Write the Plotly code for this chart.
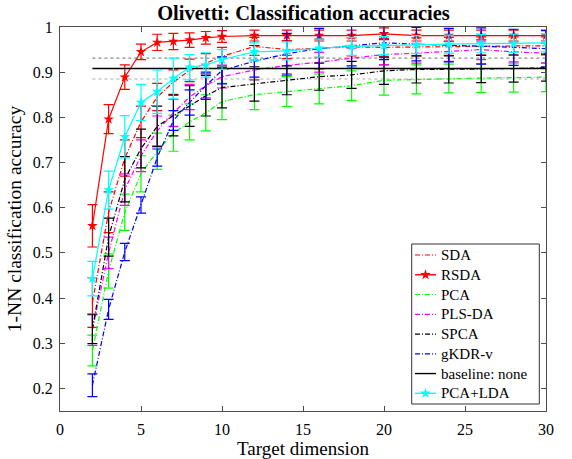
import plotly.graph_objects as go

dims = [2, 3, 4, 5, 6, 7, 8, 9, 10, 12, 14, 16, 18, 20, 22, 24, 26, 28, 30]

sda = [0.39, 0.59, 0.71, 0.79, 0.845, 0.878, 0.904, 0.919, 0.935, 0.957, 0.950, 0.953, 0.956, 0.955, 0.956, 0.957, 0.958, 0.958, 0.958]
sda_err = [0.055, 0.045, 0.04, 0.035, 0.03, 0.027, 0.025, 0.022, 0.02, 0.02, 0.02, 0.02, 0.02, 0.02, 0.02, 0.02, 0.02, 0.02, 0.02]

rsda = [0.560, 0.796, 0.889, 0.945, 0.966, 0.968, 0.971, 0.976, 0.979, 0.981, 0.981, 0.981, 0.981, 0.985, 0.981, 0.981, 0.981, 0.981, 0.981]
rsda_err = [0.047, 0.032, 0.027, 0.017, 0.018, 0.018, 0.016, 0.014, 0.013, 0.012, 0.012, 0.012, 0.012, 0.013, 0.012, 0.012, 0.012, 0.012, 0.012]

pca = [0.284, 0.46, 0.59, 0.675, 0.725, 0.765, 0.79, 0.81, 0.835, 0.85, 0.857, 0.863, 0.87, 0.882, 0.884, 0.886, 0.887, 0.888, 0.889]
pca_err = [0.034, 0.038, 0.04, 0.04, 0.04, 0.04, 0.04, 0.04, 0.04, 0.033, 0.033, 0.033, 0.033, 0.033, 0.032, 0.032, 0.032, 0.032, 0.032]

plsda = [0.33, 0.50, 0.64, 0.715, 0.77, 0.81, 0.845, 0.87, 0.89, 0.905, 0.915, 0.922, 0.931, 0.939, 0.942, 0.946, 0.95, 0.945, 0.942]
plsda_err = [0.035, 0.035, 0.035, 0.035, 0.033, 0.03, 0.028, 0.027, 0.025, 0.022, 0.022, 0.022, 0.022, 0.022, 0.022, 0.022, 0.022, 0.022, 0.022]

spca = [0.331, 0.535, 0.663, 0.731, 0.78, 0.804, 0.825, 0.848, 0.866, 0.874, 0.882, 0.89, 0.894, 0.903, 0.906, 0.906, 0.907, 0.908, 0.91]
spca_err = [0.032, 0.042, 0.05, 0.043, 0.045, 0.045, 0.045, 0.045, 0.045, 0.038, 0.032, 0.03, 0.03, 0.03, 0.03, 0.03, 0.03, 0.03, 0.03]

gkdr = [0.207, 0.375, 0.502, 0.606, 0.711, 0.793, 0.833, 0.870, 0.904, 0.924, 0.941, 0.952, 0.959, 0.965, 0.962, 0.960, 0.958, 0.955, 0.952]
gkdr_err = [0.025, 0.022, 0.019, 0.018, 0.019, 0.022, 0.028, 0.03, 0.03, 0.035, 0.045, 0.045, 0.045, 0.037, 0.037, 0.037, 0.04, 0.04, 0.04]

pcalda = [0.443, 0.639, 0.757, 0.833, 0.857, 0.886, 0.911, 0.916, 0.928, 0.945, 0.947, 0.953, 0.957, 0.959, 0.961, 0.962, 0.963, 0.964, 0.965]
pcalda_err = [0.038, 0.042, 0.047, 0.04, 0.048, 0.045, 0.028, 0.027, 0.022, 0.02, 0.02, 0.02, 0.02, 0.02, 0.02, 0.02, 0.02, 0.02, 0.02]

baseline_mean = 0.908
baseline_std = 0.023

x_ticks = [0, 5, 10, 15, 20, 25, 30]
y_ticks = [0.2, 0.3, 0.4, 0.5, 0.6, 0.7, 0.8, 0.9, 1.0]
y_ticklabels = ["0.2", "0.3", "0.4", "0.5", "0.6", "0.7", "0.8", "0.9", "1"]

FONT = "Liberation Serif"
DASH = "5px,2px,1px,2px"

# legend entries: (label, colour, dash, star marker)
legend_entries = [
    ("SDA", "#ff0000", DASH, False),
    ("RSDA", "#ff0000", "solid", True),
    ("PCA", "#00ff00", DASH, False),
    ("PLS-DA", "#ff00ff", DASH, False),
    ("SPCA", "#000000", DASH, False),
    ("gKDR-v", "#0000ff", DASH, False),
    ("baseline: none", "#000000", "solid", False),
    ("PCA+LDA", "#00ffff", "solid", True),
]

fig = go.Figure()

def add_series(name, y, err, color, dash, marker=False):
    kw = dict(x=dims, y=y, name=name, mode="lines",
              line=dict(color=color, width=1.2, dash=dash),
              error_y=dict(type="data", array=err, visible=True,
                           color=color, thickness=1.2, width=5),
              showlegend=False)
    if marker:
        kw["mode"] = "lines+markers"
        kw["marker"] = dict(symbol="star", size=8, color=color)
    fig.add_trace(go.Scatter(**kw))

# baseline std dotted lines
fig.add_trace(go.Scatter(x=[dims[0], dims[-1]], y=[baseline_mean + baseline_std] * 2,
                         mode="lines", line=dict(color="#8c8c8c", width=1.2, dash="dot"),
                         showlegend=False, hoverinfo="skip"))
fig.add_trace(go.Scatter(x=[dims[0], dims[-1]], y=[baseline_mean - baseline_std] * 2,
                         mode="lines", line=dict(color="#c8c8c8", width=1.6, dash="dot"),
                         showlegend=False, hoverinfo="skip"))

add_series("SDA", sda, sda_err, "#ff0000", DASH)
add_series("RSDA", rsda, rsda_err, "#ff0000", "solid", marker=True)
add_series("PCA", pca, pca_err, "#00ff00", DASH)
add_series("PLS-DA", plsda, plsda_err, "#ff00ff", DASH)
add_series("SPCA", spca, spca_err, "#000000", DASH)
add_series("gKDR-v", gkdr, gkdr_err, "#0000ff", DASH)
fig.add_trace(go.Scatter(x=[dims[0], dims[-1]], y=[baseline_mean] * 2, name="baseline: none",
                         mode="lines", line=dict(color="#000000", width=1.4), showlegend=False))
add_series("PCA+LDA", pcalda, pcalda_err, "#00ffff", "solid", marker=True)

# ---- custom legend drawn on a pixel-scaled overlay axis (MATLAB-like compact spacing)
LX0, LX1, LY0, LY1 = 411.7, 539.3, 244.0, 404.0
ROW0, ROWSTEP = 255.0, 19.76
SAMPLE_X0, SAMPLE_X1, TEXT_X = 415.0, 436.0, 438.5

fig.add_trace(go.Scatter(x=[LX0, LX1, LX1, LX0, LX0], y=[LY0, LY0, LY1, LY1, LY0],
                         mode="lines", fill="toself", fillcolor="white",
                         line=dict(color="#333333", width=1),
                         xaxis="x2", yaxis="y2", showlegend=False, hoverinfo="skip"))
annotations = []
for i, (label, color, dash, star) in enumerate(legend_entries):
    yy = ROW0 + i * ROWSTEP
    fig.add_trace(go.Scatter(x=[SAMPLE_X0, SAMPLE_X1], y=[yy, yy], mode="lines",
                             line=dict(color=color, width=1.4 if dash == "solid" else 1.2, dash=dash),
                             xaxis="x2", yaxis="y2", showlegend=False, hoverinfo="skip"))
    if star:
        fig.add_trace(go.Scatter(x=[(SAMPLE_X0 + SAMPLE_X1) / 2], y=[yy], mode="markers",
                                 marker=dict(symbol="star", size=8, color=color),
                                 xaxis="x2", yaxis="y2", showlegend=False, hoverinfo="skip"))
    annotations.append(dict(text=label, x=TEXT_X, y=yy, xref="x2", yref="y2",
                            xanchor="left", yanchor="middle", showarrow=False,
                            font=dict(family=FONT, size=15, color="black")))

axis_common = dict(showline=True, linecolor="#4d4d4d", linewidth=1, mirror="ticks",
                   ticks="inside", ticklen=5, tickcolor="#4d4d4d", showgrid=False,
                   zeroline=False, automargin=False,
                   tickfont=dict(family=FONT, size=16, color="black"))

fig.update_layout(
    width=572, height=459,
    margin=dict(l=60, r=26, t=27, b=48),
    paper_bgcolor="white", plot_bgcolor="white",
    font=dict(family=FONT, color="black"),
    showlegend=False,
    annotations=annotations,
    title=dict(text="<b>Olivetti: Classification accuracies</b>",
               font=dict(family=FONT, size=20.5, color="black"),
               x=303.5 / 572, xanchor="center", y=1 - 13.3 / 459, yanchor="middle",
               xref="container", yref="container"),
    xaxis=dict(range=[0, 30], tickvals=x_ticks, ticklabelstandoff=4,
               title=dict(text="Target dimension", font=dict(family=FONT, size=19), standoff=3),
               **axis_common),
    yaxis=dict(range=[0.15, 1], tickvals=y_ticks, ticktext=y_ticklabels, ticklabelstandoff=3,
               title=dict(text="1-NN classification accuracy", font=dict(family=FONT, size=19.5), standoff=5),
               **axis_common),
    xaxis2=dict(overlaying="x", anchor="y2", range=[60, 546], visible=False, fixedrange=True),
    yaxis2=dict(overlaying="y", anchor="x2", range=[411, 27], visible=False, fixedrange=True),
)

fig.write_html("out.html", config={"displayModeBar": False, "staticPlot": True},
               post_script="document.body.style.margin='0';")
